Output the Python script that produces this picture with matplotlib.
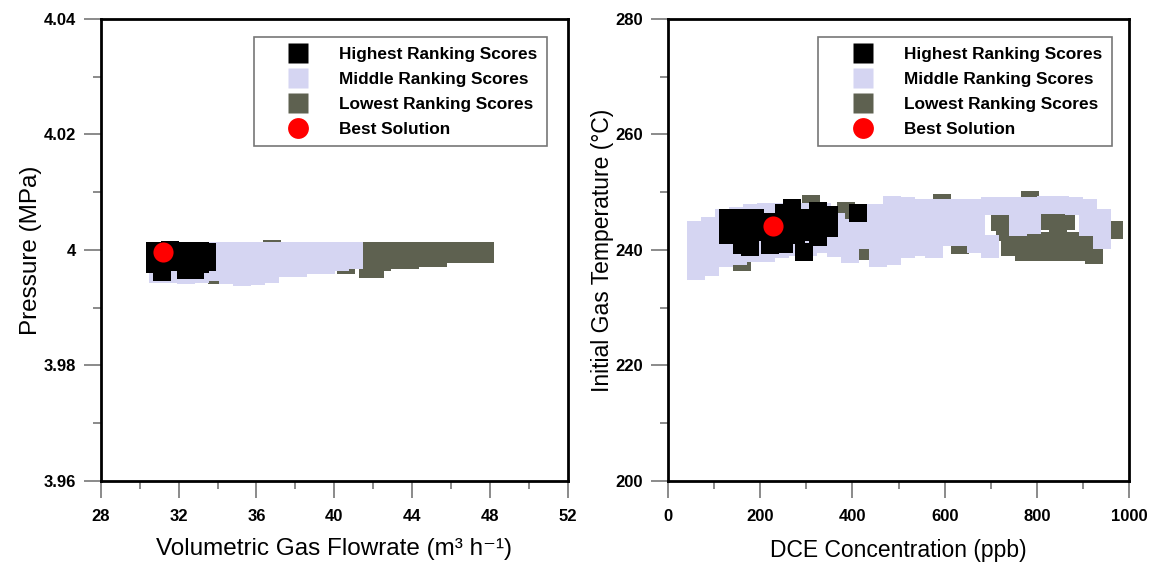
import numpy as np
import matplotlib
matplotlib.use("Agg")
import matplotlib.pyplot as plt
from matplotlib.lines import Line2D
from matplotlib.ticker import MultipleLocator, FuncFormatter

plt.rcParams['font.family'] = ['Liberation Sans', 'DejaVu Sans']

# ---------- flowrate vs pressure ----------
flow_high = [30.8, 30.8, 31.15, 31.55, 31.65, 32.35, 32.4, 32.4, 33.1, 33.1, 33.45, 33.45, 32.85]
pres_high = [3.9998, 3.9976, 3.9962, 4.0000, 3.9979, 3.9998, 3.9976, 3.9965, 3.9998, 3.9976, 3.9997, 3.9979, 3.9965]

flow_mid_cols = [30.94, 31.66, 32.38, 33.10, 33.81, 34.53, 35.26, 35.98,
                 36.70, 37.41, 38.13, 38.85, 39.57, 40.29, 41.01]
pres_mid_cols = [[3.9998, 3.9979, 3.9958], [3.9998, 3.9979, 3.9958],
                 [3.9998, 3.9979, 3.9957], [3.9998, 3.9979, 3.9958],
                 [3.9998, 3.9979, 3.9962], [3.9998, 3.9979, 3.9957],
                 [3.9998, 3.9979, 3.9953], [3.9998, 3.9979, 3.9955],
                 [3.9998, 3.9979, 3.9958], [3.9998, 3.9980, 3.9969],
                 [3.9998, 3.9980, 3.9969], [3.9998, 3.9974],
                 [3.9998, 3.9974], [3.9998, 3.9979], [3.9998, 3.9983]]

flow_low = [41.73, 41.73, 41.73, 42.10, 42.45, 42.45, 43.17, 43.17, 43.89, 43.89,
            44.61, 44.61, 45.32, 45.32, 46.04, 46.04, 46.76, 46.76,
            47.48, 47.48, 47.74, 47.74, 36.81, 33.98, 40.60]
pres_low = [3.9998, 3.9983, 3.9967, 3.9967, 3.9998, 3.9979, 3.9998, 3.9983, 3.9998, 3.9983,
            3.9998, 3.9986, 3.9998, 3.9986, 3.9998, 3.9993, 3.9998, 3.9993,
            3.9998, 3.9993, 3.9998, 3.9993, 4.0002, 3.9957, 3.9974]

flow_best, pres_best = 31.2, 3.9997

# ---------- DCE vs initial gas temperature ----------
dce_high = [130.2, 130.2, 130.2, 160.5, 160.5, 160.5, 188.7, 188.7, 177.9,
            216.9, 221.3, 221.3, 251.6, 251.6, 251.6, 269.0, 277.7, 277.7,
            295.0, 299.3, 303.7, 325.4, 325.4, 325.4, 349.2, 349.2, 412.1]
temp_high = [245.62, 243.20, 242.51, 245.62, 243.20, 240.78, 245.62, 243.20, 240.60,
             244.92, 242.51, 240.78, 246.48, 243.89, 241.12, 247.34, 244.92, 242.51,
             239.57, 245.62, 243.20, 246.83, 244.41, 242.33, 246.13, 243.89, 246.48]

dce_mid_cols = [60.7, 91.1, 121.5, 151.8, 182.2, 212.6, 243.0, 273.3, 303.7, 334.1,
                364.4, 394.8, 425.2, 455.5, 485.9, 516.3, 546.6, 577.0, 607.4, 637.7,
                668.1, 698.5, 728.9, 759.2, 789.6, 820.0, 850.3, 880.7, 911.1, 941.4]
temp_mid_cols = [
    [243.54, 241.12, 238.70, 236.29],
    [244.23, 241.81, 239.40, 236.98],
    [245.62, 243.20, 240.78, 238.53],
    [245.96, 243.54, 241.12, 238.88],
    [246.48, 244.06, 241.81, 239.40],
    [246.65, 244.23, 241.81, 239.40],
    [246.65, 244.23, 242.16, 240.09],
    [246.65, 244.41, 242.33, 240.60],
    [246.65, 244.41, 242.33, 240.60],
    [246.65, 244.58, 242.68, 241.12],
    [244.92, 242.51, 240.26],
    [243.89, 241.47, 239.22],
    [246.48, 244.06, 241.81],
    [246.48, 244.06, 241.64, 239.22, 238.53],
    [247.86, 245.44, 243.02, 240.78, 238.88],
    [247.69, 245.27, 242.85, 240.43, 240.09],
    [247.34, 245.10, 242.85, 240.60],
    [247.34, 244.92, 242.51, 240.09],
    [247.34, 244.92, 242.33],
    [247.34, 244.92, 242.33],
    [247.34, 245.10, 243.02, 241.12],
    [247.69, 241.12, 240.09],
    [247.69],
    [247.69, 245.62, 244.06],
    [247.69, 245.27, 244.41],
    [247.86],
    [247.86],
    [247.69],
    [247.34, 245.27, 244.06],
    [245.62, 243.54, 241.81],
]

dce_low = [741.9, 772.2, 802.6, 833.0, 863.3, 893.7, 924.1,
           741.9, 772.2, 802.6, 833.0, 863.3, 893.7, 924.1,
           828.6, 863.3, 846.0, 720.2, 731.0, 967.5,
           633.4, 594.4, 785.2, 310.2, 386.1, 160.5, 431.7]
temp_low = [241.6, 241.6, 241.6, 241.6, 241.6, 241.6, 241.6,
            240.6, 239.7, 239.7, 239.7, 239.7, 239.7, 239.2,
            245.1, 245.1, 243.5, 244.9, 243.2, 243.5,
            240.8, 248.2, 248.7, 247.9, 246.8, 238.0, 239.9]

dce_best, temp_best = 227.8, 244.2

labels = ['Highest Ranking Scores', 'Middle Ranking Scores',
          'Lowest Ranking Scores', 'Best Solution']

c_high, c_mid, c_low, c_best = '#000000', '#d5d5f2', '#5e6150', '#ff0000'
sq = 150
dot = 210


def flatten(xs, cols):
    fx, fy = [], []
    for x, ys in zip(xs, cols):
        for y in ys:
            fx.append(x)
            fy.append(y)
    return fx, fy


flow_mid, pres_mid = flatten(flow_mid_cols, pres_mid_cols)
dce_mid, temp_mid = flatten(dce_mid_cols, temp_mid_cols)

fig = plt.figure(figsize=(11.51, 5.65), dpi=100)
ax1 = fig.add_axes([0.0875, 0.1487, 0.406, 0.8177])
ax2 = fig.add_axes([0.5804, 0.1487, 0.4005, 0.8177])


def draw(ax, xl, yl, xh, yh, xm, ym, xb, yb):
    # low scores underneath, then middle, then best ones on top
    ax.scatter(xl, yl, s=sq, marker='s', c=c_low, linewidths=0, zorder=2)
    ax.scatter(xm, ym, s=sq, marker='s', c=c_mid, linewidths=0, zorder=3)
    ax.scatter(xh, yh, s=sq, marker='s', c=c_high, linewidths=0, zorder=4)
    ax.scatter([xb], [yb], s=dot, marker='o', c=c_best, linewidths=0, zorder=5)


draw(ax1, flow_low, pres_low, flow_high, pres_high, flow_mid, pres_mid, flow_best, pres_best)
draw(ax2, dce_low, temp_low, dce_high, temp_high, dce_mid, temp_mid, dce_best, temp_best)

ax1.set_xlim(28, 52)
ax1.set_ylim(3.96, 4.04)
ax1.xaxis.set_major_locator(MultipleLocator(4))
ax1.xaxis.set_minor_locator(MultipleLocator(2))
ax1.yaxis.set_major_locator(MultipleLocator(0.02))
ax1.yaxis.set_minor_locator(MultipleLocator(0.01))
ax1.yaxis.set_major_formatter(FuncFormatter(lambda v, p: '%g' % round(v, 4)))

ax2.set_xlim(0, 1000)
ax2.set_ylim(200, 280)
ax2.xaxis.set_major_locator(MultipleLocator(200))
ax2.xaxis.set_minor_locator(MultipleLocator(100))
ax2.yaxis.set_major_locator(MultipleLocator(20))
ax2.yaxis.set_minor_locator(MultipleLocator(10))

ax1.set_xlabel('Volumetric Gas Flowrate (m\u00b3 h\u207b\u00b9)', fontsize=17.5, labelpad=10)
ax1.set_ylabel('Pressure (MPa)', fontsize=17.5, labelpad=1)
ax2.set_xlabel('DCE Concentration (ppb)', fontsize=16.5, labelpad=11)
ax2.set_ylabel('Initial Gas Temperature (\u00b0C)', fontsize=16.5, labelpad=1)

handles = [
    Line2D([], [], ls='none', marker='s', ms=15, mfc=c_high, mec='none'),
    Line2D([], [], ls='none', marker='s', ms=15, mfc=c_mid, mec='none'),
    Line2D([], [], ls='none', marker='s', ms=15, mfc=c_low, mec='none'),
    Line2D([], [], ls='none', marker='o', ms=15, mfc=c_best, mec='none'),
]

for ax, anchor in ((ax1, (0.955, 0.961)), (ax2, (0.963, 0.961))):
    for s in ax.spines.values():
        s.set_linewidth(2)
    ax.tick_params(which='major', direction='out', length=12, width=1.2, color='#777777')
    ax.tick_params(which='minor', direction='out', length=6, width=1.2, color='#777777')
    ax.tick_params(axis='x', which='major', pad=8, labelsize=12)
    ax.tick_params(axis='y', which='major', pad=6, labelsize=12)
    for t in ax.get_xticklabels() + ax.get_yticklabels():
        t.set_fontweight('bold')
    leg = ax.legend(handles, labels, loc='upper right', bbox_to_anchor=anchor,
                    prop={'size': 12.4, 'weight': 'bold'}, frameon=True, fancybox=False,
                    borderpad=0.55, handlelength=4.1, handletextpad=0.33,
                    labelspacing=0.58, borderaxespad=0)
    leg.get_frame().set_edgecolor('#555555')
    leg.get_frame().set_linewidth(1.2)

fig.savefig('out.png', dpi=100)
